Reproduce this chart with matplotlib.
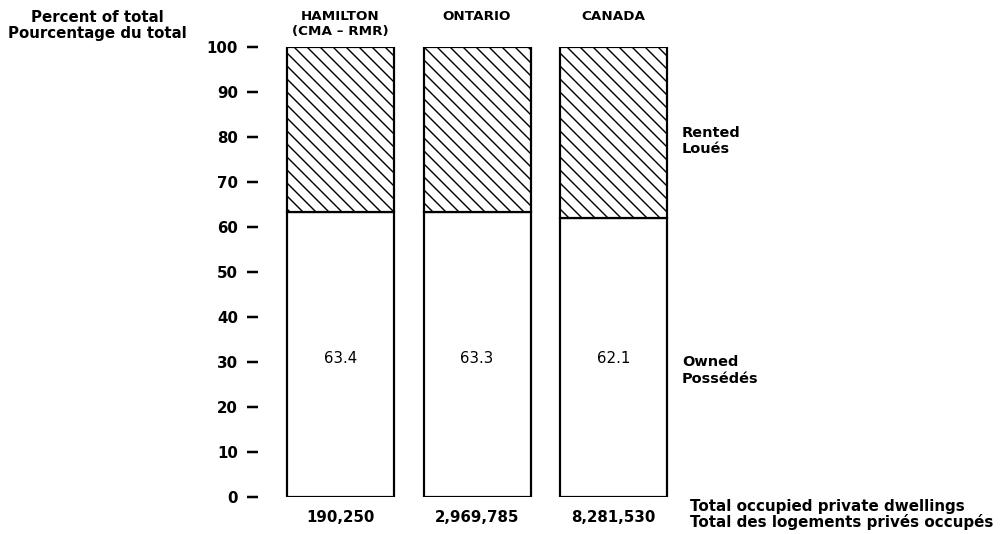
import numpy as np
import matplotlib
matplotlib.use("Agg")
import matplotlib.pyplot as plt

# Owned / rented share of occupied private dwellings
regions = ["HAMILTON\n(CMA \u2013 RMR)", "ONTARIO", "CANADA"]
owned = [63.4, 63.3, 62.1]
rented = [36.6, 36.7, 37.9]
totals = ["190,250", "2,969,785", "8,281,530"]
yticks = [0, 10, 20, 30, 40, 50, 60, 70, 80, 90, 100]

DPI = 78
W, H = 1001, 534
plt.rcParams['font.family'] = ['DejaVu Sans']
plt.rcParams['hatch.linewidth'] = 1.3


def pt(px):
    return px * 72.0 / DPI


fig = plt.figure(figsize=(W / DPI, H / DPI), dpi=DPI)
# axes: left edge at the tick end, y 0..100 spans pixels 497..47
x_left, x_right = 258, 1001
y_top, y_bot = 47, 497
ax = fig.add_axes([x_left / W, (H - y_bot) / H, (x_right - x_left) / W, (y_bot - y_top) / H])

step = 136.5
width = 107 / step
c0 = 340.5
ax.set_xlim((x_left - c0) / step, (x_right - c0) / step)
ax.set_ylim(0, 100)

x = np.arange(len(regions))
lw = pt(2.2)
ax.bar(x, owned, width=width, color="white", edgecolor="black", linewidth=lw, zorder=2)
ax.bar(x, rented, bottom=owned, width=width, color="white", edgecolor="black",
       hatch="\\\\", linewidth=lw, zorder=2)

for xi, v in zip(x, owned):
    ax.text(xi, 30.7, f"{v:.1f}", ha="center", va="center", fontsize=pt(15), zorder=3)

for s in ax.spines.values():
    s.set_visible(False)

ax.set_yticks(yticks)
ax.set_yticklabels([str(t) for t in yticks], fontsize=pt(15), fontweight="bold")
ax.tick_params(axis="y", direction="out", length=pt(11), width=pt(2.5), pad=pt(9))

ax.set_xticks(x)
ax.set_xticklabels(totals, fontsize=pt(15), fontweight="bold")
ax.tick_params(axis="x", length=0, pad=pt(13))

# region names above bars
trans = ax.get_xaxis_transform()
for xi, name in zip(x, regions):
    lines = name.split("\n")
    for k, line in enumerate(lines):
        py = 17 + 15 * k
        ax.text(xi, (y_bot - py) / (y_bot - y_top), line, transform=trans, ha="center",
                va="center", fontsize=pt(13.5), fontweight="bold", clip_on=False)


def dx(px):
    return (px - c0) / step


def dy(py):
    return (y_bot - py) / (y_bot - y_top) * 100


bold = dict(fontsize=pt(15), fontweight="bold", clip_on=False)
ax.text(dx(97), dy(18), "Percent of total", ha="center", va="center", **bold)
ax.text(dx(97), dy(33), "Pourcentage du total", ha="center", va="center", **bold)

side = dict(fontsize=pt(14.5), fontweight="bold", clip_on=False, ha="left", va="center")
ax.text(dx(682), dy(133), "Rented", **side)
ax.text(dx(682), dy(149), "Lou\u00e9s", **side)
ax.text(dx(682), dy(362), "Owned", **side)
ax.text(dx(682), dy(379), "Poss\u00e9d\u00e9s", **side)
side["fontsize"] = pt(15.2)
ax.text(dx(690), dy(507), "Total occupied private dwellings", **side)
ax.text(dx(690), dy(522), "Total des logements priv\u00e9s occup\u00e9s", **side)

fig.savefig("out.png", dpi=DPI, facecolor="white")
